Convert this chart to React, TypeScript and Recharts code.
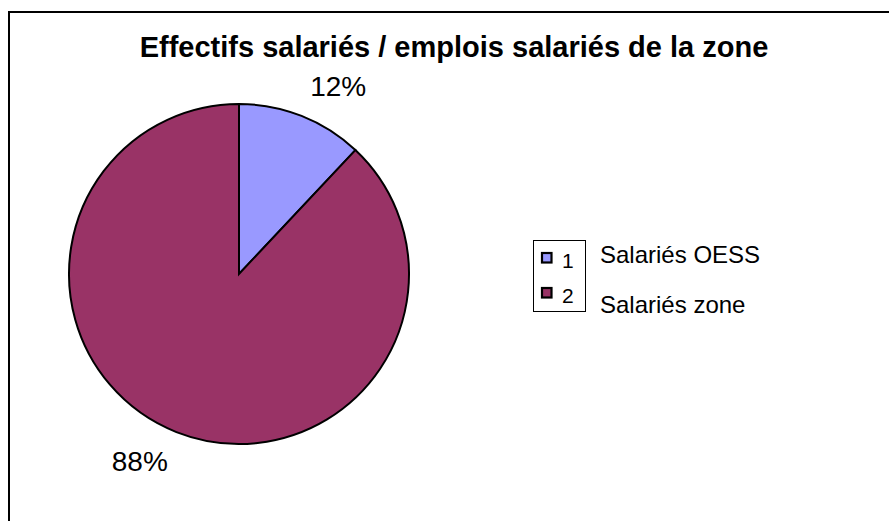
import React from 'react';
import { PieChart, Pie, Cell, Legend, Customized } from 'recharts';

const title = 'Effectifs salariés / emplois salariés de la zone';
const categories = ['Salariés OESS', 'Salariés zone'];
const legendKeys = ['1', '2'];
const values = [12, 88];
const colors = ['#9999FF', '#993366'];

const data = categories.map((name, i) => ({ name, value: values[i] }));

const FONT = '"Liberation Sans", Arial, sans-serif';
const RAD = Math.PI / 180;

const renderLabel = (props: any) => {
  const { cx, cy, midAngle, percent } = props;
  const r = 212;
  const a = (midAngle - 6.3) * RAD;
  const x = cx + r * Math.cos(a);
  const y = cy - r * Math.sin(a);
  return (
    <text x={x} y={y} textAnchor="middle" dominantBaseline="central" fontFamily={FONT} fontSize={28} fill="#000">
      {`${Math.round(percent * 100)}%`}
    </text>
  );
};

const Frame = () => (
  <g>
    <line x1={0} y1={1} x2={881} y2={1} stroke="#000" strokeWidth={2} />
    <line x1={1} y1={0} x2={1} y2={510} stroke="#000" strokeWidth={2} />
    <text x={446} y={46} textAnchor="middle" fontFamily={FONT} fontWeight="bold" fontSize={29} fill="#000">
      {title}
    </text>
  </g>
);

const LegendContent = () => (
  <svg width={260} height={90} style={{ display: 'block' }}>
    <rect x={0.5} y={0.5} width={52} height={71} fill="#fff" stroke="#000" strokeWidth={1} />
    {categories.map((c, i) => (
      <g key={c}>
        <rect x={9} y={13 + i * 35} width={9.5} height={9.5} fill={colors[i]} stroke="#000" strokeWidth={2.2} />
        <text x={29} y={27.5 + i * 35} fontFamily={FONT} fontSize={21} fill="#000">
          {legendKeys[i]}
        </text>
        <text x={67} y={23.3 + i * 50} fontFamily={FONT} fontSize={24} fill="#000">
          {c}
        </text>
      </g>
    ))}
  </svg>
);

export default function App() {
  return (
    <>
      <style>{'html,body{overflow:hidden;}'}</style>
      <div style={{ position: 'absolute', left: 8, top: 11, width: 881, height: 510, overflow: 'hidden' }}>
        <PieChart width={881} height={510} margin={{ top: 0, right: 0, bottom: 0, left: 0 }}>
          <Customized component={Frame} />
          <Pie
            data={data}
            dataKey="value"
            nameKey="name"
            cx={231}
            cy={263}
            outerRadius={170}
            startAngle={90}
            endAngle={-270}
            stroke="#000"
            strokeWidth={2}
            label={renderLabel}
            labelLine={false}
            isAnimationActive={false}
          >
            {data.map((d, i) => (
              <Cell key={d.name} fill={colors[i]} />
            ))}
          </Pie>
          <Legend
            content={<LegendContent />}
            wrapperStyle={{ left: 525, top: 229, width: 260, height: 90 }}
          />
        </PieChart>
      </div>
    </>
  );
}
